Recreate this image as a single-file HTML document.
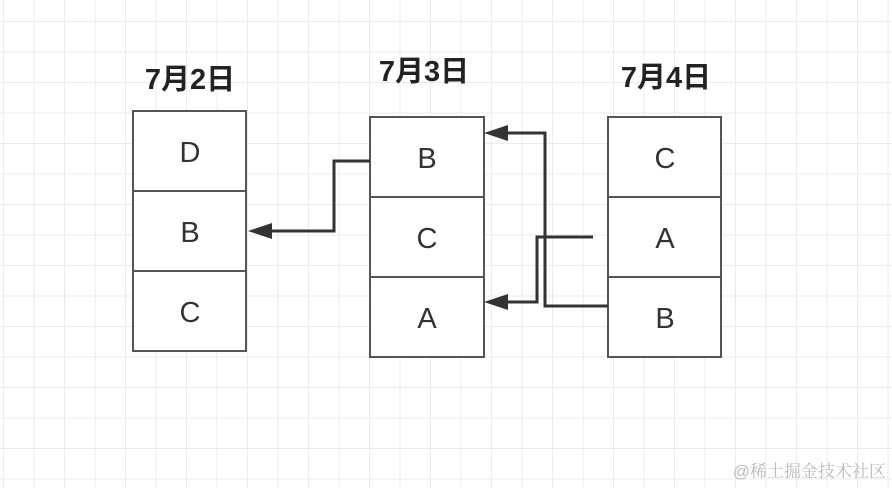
<!DOCTYPE html>
<html><head><meta charset="utf-8"><style>
html,body{margin:0;padding:0;width:892px;height:488px;overflow:hidden;background:#fff}
</style></head><body>
<svg width="892" height="488" xmlns="http://www.w3.org/2000/svg" style="display:block">
<defs>
<pattern id="g" x="3" y="21" width="30.5" height="30.5" patternUnits="userSpaceOnUse">
<path d="M0 0H30.5M0 0V30.5" stroke="#ebebeb" stroke-width="2" fill="none"/>
</pattern>
</defs>
<rect width="892" height="488" fill="url(#g)"/>
<g font-family="Liberation Sans, Noto Sans CJK SC, sans-serif" font-weight="bold" font-size="29" fill="#222" text-anchor="middle">
<text x="190" y="89">7月2日</text>
<text x="424" y="81">7月3日</text>
<text x="666" y="87">7月4日</text>
</g>
<g fill="#fff" stroke="#555" stroke-width="2">
<rect x="133" y="111" width="113" height="240"/>
<line x1="133" y1="191" x2="246" y2="191"/><line x1="133" y1="271" x2="246" y2="271"/>
<rect x="370" y="117" width="114" height="240"/>
<line x1="370" y1="197" x2="484" y2="197"/><line x1="370" y1="277" x2="484" y2="277"/>
<rect x="608" y="117" width="113" height="240"/>
<line x1="608" y1="197" x2="721" y2="197"/><line x1="608" y1="277" x2="721" y2="277"/>
</g>
<g font-family="Liberation Sans, sans-serif" font-size="29" fill="#333" text-anchor="middle">
<text x="190" y="162">D</text><text x="190" y="242">B</text><text x="190" y="322">C</text>
<text x="427" y="168">B</text><text x="427" y="248">C</text><text x="427" y="328">A</text>
<text x="665" y="168">C</text><text x="665" y="248">A</text><text x="665" y="328">B</text>
</g>
<g stroke="#333" stroke-width="3" fill="none">
<path d="M370 161H334V231H268"/>
<path d="M608 306H545V133H504"/>
<path d="M593 237H537V302H504"/>
</g>
<g fill="#333">
<polygon points="248,231 272,223 272,239"/>
<polygon points="484,133 508,125 508,141"/>
<polygon points="484,302 508,294 508,310"/>
</g>
<text x="886" y="477" text-anchor="end" font-family="Liberation Sans, Noto Serif CJK SC, sans-serif" font-size="17" fill="#bbb">@稀土掘金技术社区</text>
</svg>
</body></html>
